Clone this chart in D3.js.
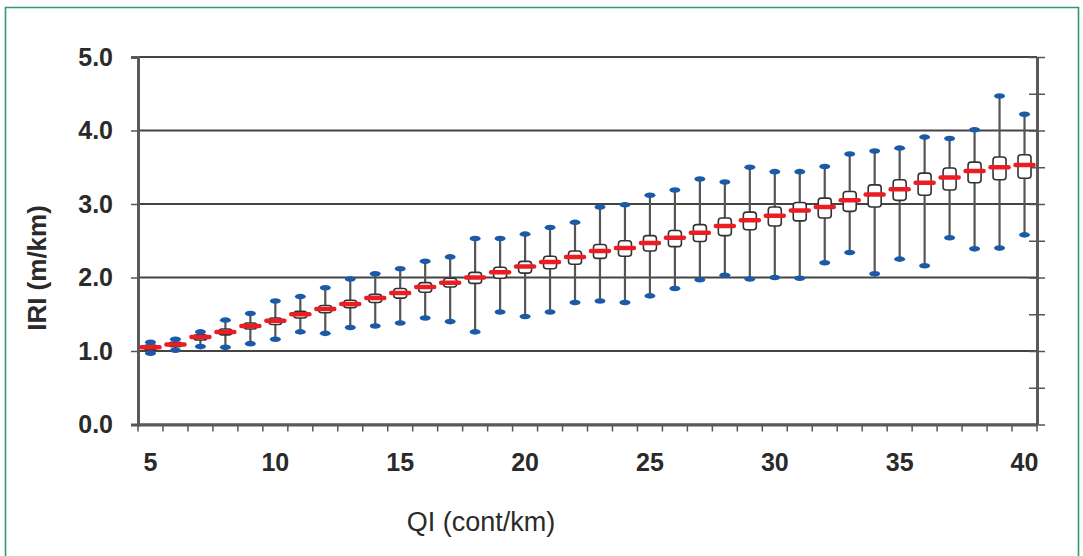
<!DOCTYPE html>
<html>
<head>
<meta charset="utf-8">
<script src="https://cdn.jsdelivr.net/npm/d3@7/dist/d3.min.js"></script>
<style>
  html, body { margin: 0; padding: 0; background: #fff; }
  svg { display: block; }
  text { font-family: "Liberation Sans", Arial, sans-serif; }
</style>
</head>
<body>
<svg id="chart" width="1083" height="556"></svg>
<script>
// QI class (cont/km)
const categories = d3.range(5, 41);

// IRI (m/km) box-plot statistics per QI class
const maxValues = [1.12, 1.16, 1.26, 1.42, 1.51, 1.68, 1.74, 1.86, 1.98, 2.05, 2.12, 2.22, 2.28, 2.53, 2.53, 2.59, 2.68, 2.75,
                   2.96, 2.99, 3.12, 3.19, 3.34, 3.30, 3.50, 3.44, 3.44, 3.51, 3.68, 3.72, 3.76, 3.91, 3.89, 4.01, 4.47, 4.22];
const q3Values  = [1.08, 1.12, 1.22, 1.30, 1.38, 1.45, 1.54, 1.62, 1.69, 1.77, 1.85, 1.93, 1.99, 2.07, 2.14, 2.22, 2.29, 2.36,
                   2.45, 2.50, 2.57, 2.64, 2.72, 2.81, 2.89, 2.96, 3.02, 3.08, 3.17, 3.26, 3.33, 3.42, 3.49, 3.57, 3.64, 3.67];
const medianValues = [1.05, 1.09, 1.19, 1.26, 1.34, 1.41, 1.50, 1.57, 1.64, 1.72, 1.79, 1.87, 1.93, 2.00, 2.07, 2.15, 2.21, 2.28,
                   2.36, 2.40, 2.47, 2.54, 2.61, 2.70, 2.78, 2.84, 2.91, 2.96, 3.05, 3.13, 3.20, 3.29, 3.36, 3.45, 3.50, 3.53];
const q1Values  = [1.02, 1.06, 1.15, 1.22, 1.30, 1.36, 1.45, 1.52, 1.59, 1.66, 1.72, 1.80, 1.87, 1.92, 1.99, 2.06, 2.12, 2.18,
                   2.26, 2.29, 2.36, 2.42, 2.49, 2.57, 2.65, 2.70, 2.77, 2.81, 2.90, 2.96, 3.05, 3.12, 3.19, 3.29, 3.33, 3.35];
const minValues = [0.97, 1.01, 1.06, 1.05, 1.10, 1.16, 1.26, 1.24, 1.32, 1.34, 1.38, 1.45, 1.40, 1.26, 1.53, 1.47, 1.53, 1.66,
                   1.68, 1.66, 1.75, 1.85, 1.97, 2.03, 1.98, 2.00, 1.99, 2.20, 2.34, 2.05, 2.25, 2.16, 2.54, 2.39, 2.40, 2.58];

const yTicks = [0, 1, 2, 3, 4, 5];
const yMinorTicks = d3.range(0, 5.01, 0.5);
const xTickLabels = [5, 10, 15, 20, 25, 30, 35, 40];

const rows = categories.map((c, i) => ({
  qi: c, min: minValues[i], q1: q1Values[i], med: medianValues[i], q3: q3Values[i], max: maxValues[i]
}));

const svg = d3.select("#chart");
const plot = { left: 138, right: 1037, top: 57, bottom: 424.5 };
const labelFont = "'Liberation Sans', Arial, sans-serif";

// outer frame
svg.append("path")
  .attr("d", "M5.5,560 V7.5 H1078.5 V560")
  .attr("fill", "none")
  .attr("stroke", "#2f9a6e")
  .attr("stroke-width", 1.6);

const x = d3.scaleBand().domain(categories).range([plot.left, plot.right]).padding(0);
const y = d3.scaleLinear().domain([0, 5]).range([plot.bottom, plot.top]);

// horizontal gridlines at whole units
svg.append("g")
  .selectAll("line")
  .data(yTicks)
  .join("line")
  .attr("x1", plot.left).attr("x2", plot.right)
  .attr("y1", d => y(d)).attr("y2", d => y(d))
  .attr("stroke", "#444").attr("stroke-width", 2);

// left axis
const leftAxis = svg.append("g")
  .attr("transform", `translate(${plot.left},0)`)
  .call(d3.axisLeft(y).tickValues(yTicks).tickFormat(d3.format(".1f")).tickSize(7).tickPadding(18));
leftAxis.select(".domain").attr("stroke", "#5a5a5a").attr("stroke-width", 3);
leftAxis.selectAll(".tick line").attr("stroke", "#555").attr("stroke-width", 1.5);
leftAxis.selectAll(".tick text")
  .attr("font-size", 25).attr("font-weight", "bold").attr("fill", "#2a2a2a")
  .attr("font-family", labelFont);

// right axis with half-unit ticks crossing the line
const rightAxis = svg.append("g")
  .attr("transform", `translate(${plot.right},0)`)
  .call(d3.axisRight(y).tickValues(yMinorTicks).tickFormat("").tickSizeInner(8).tickSizeOuter(0));
rightAxis.select(".domain").attr("stroke", "#5a5a5a").attr("stroke-width", 3);
rightAxis.selectAll(".tick line").attr("x1", -8).attr("stroke", "#555").attr("stroke-width", 1.5);

// bottom axis: ticks on band edges, labels every fifth class
svg.append("g")
  .selectAll("line")
  .data(d3.range(categories.length + 1))
  .join("line")
  .attr("x1", i => plot.left + i * x.step()).attr("x2", i => plot.left + i * x.step())
  .attr("y1", plot.bottom).attr("y2", plot.bottom + 7)
  .attr("stroke", "#555").attr("stroke-width", 1.5);

const bottomAxis = svg.append("g")
  .attr("transform", `translate(0,${plot.bottom})`)
  .call(d3.axisBottom(x).tickValues(xTickLabels).tickSize(0).tickPadding(29));
bottomAxis.select(".domain").attr("stroke", "#5a5a5a").attr("stroke-width", 3);
bottomAxis.selectAll(".tick text")
  .attr("font-size", 25).attr("font-weight", "bold").attr("fill", "#2a2a2a")
  .attr("font-family", labelFont);

// axis titles
svg.append("text")
  .attr("x", 481).attr("y", 531)
  .attr("text-anchor", "middle")
  .attr("font-size", 27).attr("fill", "#2a2a2a")
  .text("QI (cont/km)");

svg.append("text")
  .attr("transform", "translate(46,268) rotate(-90)")
  .attr("text-anchor", "middle")
  .attr("font-size", 26).attr("font-weight", "bold").attr("fill", "#2a2a2a")
  .text("IRI (m/km)");

// box plots
const boxes = svg.append("g")
  .selectAll("g")
  .data(rows)
  .join("g")
  .attr("transform", d => `translate(${x(d.qi) + x.bandwidth() / 2},0)`);

boxes.append("line")
  .attr("y1", d => y(d.min)).attr("y2", d => y(d.max))
  .attr("stroke", "#555").attr("stroke-width", 2.2);

boxes.append("rect")
  .attr("x", -6.5).attr("width", 13)
  .attr("y", d => y(d.q3)).attr("height", d => y(d.q1) - y(d.q3))
  .attr("rx", 3)
  .attr("fill", "#fff").attr("stroke", "#333").attr("stroke-width", 1.6);

boxes.append("line")
  .attr("x1", -9).attr("x2", 9)
  .attr("y1", d => y(d.med)).attr("y2", d => y(d.med))
  .attr("stroke", "#ec1c24").attr("stroke-width", 4.5).attr("stroke-linecap", "round");

boxes.selectAll("ellipse")
  .data(d => [d.min, d.max])
  .join("ellipse")
  .attr("cx", 0).attr("cy", v => y(v))
  .attr("rx", 5.5).attr("ry", 2.8)
  .attr("fill", "#1a5aa6");
</script>
</body>
</html>
